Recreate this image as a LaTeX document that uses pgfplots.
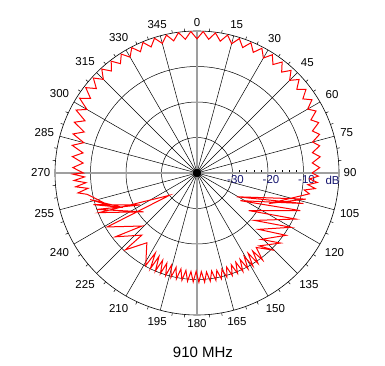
\documentclass[border=0pt]{standalone}
\usepackage{fontspec}
\setmainfont{Liberation Sans}
\usepackage{pgfplots}
\pgfplotsset{compat=1.18}
\usepgfplotslibrary{polar}
\definecolor{navy}{RGB}{20,20,110}
\begin{document}
\begin{tikzpicture}
\begin{polaraxis}[
  name=ax,
  width=284pt, height=284pt, scale only axis,
  xmin=0, xmax=360, ymin=0, ymax=40,
  xtick={0,15,...,345},
  xticklabels={90,75,60,45,30,15,0,345,330,315,300,285,270,255,240,225,210,195,180,165,150,135,120,105},
  minor x tick num=2,
  ytick={10,20,30},
  yticklabels={{-30},{-20},{-10}},
  minor y tick num=4,
  grid=major,
  major grid style={black, line width=0.5pt},
  axis line style={black, line width=0.6pt},
  tick style={black, line width=0.5pt},
  tick align=inside,
  minor tick length=3pt,
  major tick length=0pt,
  xticklabel style={font=\fontsize{11.5}{13}\selectfont, inner sep=4.5pt},
  yticklabel style={font=\fontsize{11.5}{13}\selectfont, text=navy, anchor=north, xshift=3pt, yshift=1pt, fill=none},
  extra x ticks={0,90,180,270},
  extra x tick labels={},
  extra x tick style={grid=major, major grid style={gray!75, line width=1.4pt}, tick style={draw=none}},
]
\addplot[red, line width=1pt] table[x expr={90-\thisrowno{0}}, y expr={\thisrowno{1}+40}] {
a d
90 -7.6
91.5 -5.8
93 -8.2
94.5 -6.0
96 -8.6
97.5 -6.4
99 -9.4
100.5 -7.8
113 -18
103.5 -8.5
121 -27
106 -8.8
122.5 -25.5
110 -9
126 -22
115 -9.3
129.5 -19
120 -9.4
132.5 -16.5
125 -9.4
136 -14
130 -9.3
139.5 -13
135 -9.2
141.5 -13.2
143 -9.3
144.5 -13.0
146 -9.3
147.5 -13.2
149 -9.4
150.5 -13.0
152 -9.4
153.5 -12.8
155 -9.4
156.5 -12.6
158 -9.5
159.5 -12.4
161 -9.5
162.5 -12.2
164 -9.5
165.5 -12.0
167 -9.4
168.5 -12.0
170 -9.3
171.5 -12.1
173 -9.3
174.5 -12.0
176 -9.2
177.5 -12.2
179 -9.2
180.5 -12.3
182 -9.3
183.5 -12.2
185 -9.4
186.5 -12.4
188 -9.5
189.5 -12.6
191 -9.6
192.5 -12.8
194 -9.7
195.5 -13.0
197 -9.8
198.5 -13.2
200 -9.9
201.5 -13.6
203 -10.0
204.5 -14.2
206 -10.0
207.5 -14.6
209 -10.2
215.7 -15.8
223 -10.4
221.6 -16.6
232 -10.8
226 -18.5
239 -10.5
231 -30
248 -10.2
234 -21.4
250 -10
240.7 -21.6
253 -9.5
245 -17
256 -9
250 -13.5
259 -8.5
260.5 -6.0
262 -9.0
263.5 -5.6
265 -8.6
266.5 -5.3
268 -8.3
269.5 -5.0
270 -8.0
272.5 -5.0
275 -7.8
277.5 -4.6
280 -7.4
282.5 -4.0
285 -7.0
287.5 -3.4
290 -6.2
292.5 -2.6
295 -5.2
297.5 -1.6
300 -4.2
302.5 -0.8
305 -3.4
307.5 -0.5
310 -3.0
312.5 -0.4
315 -2.7
317.5 -0.3
320 -2.5
322.5 -0.3
325 -2.4
327.5 -0.3
330 -2.3
332.5 -0.2
335 -2.3
337.5 -0.2
340 -2.2
342.5 -0.2
345 -2.2
347.5 -0.2
350 -2.2
352.5 -0.1
355 -2.2
357.5 -0.1
360 -2.2
362.5 -0.1
365 -2.2
367.5 -0.2
370 -2.3
372.5 -0.2
375 -2.3
377.5 -0.3
380 -2.4
382.5 -0.3
385 -2.5
387.5 -0.4
390 -2.6
392.5 -0.5
395 -2.7
397.5 -0.6
400 -2.9
402.5 -0.8
405 -3.1
407.5 -1.0
410 -3.3
412.5 -1.3
415 -3.6
417.5 -1.6
420 -4.0
422.5 -2.2
425 -4.6
427.5 -2.9
430 -5.4
432.5 -3.8
435 -6.3
437.5 -4.6
440 -7.0
442.5 -5.0
445 -7.4
447.5 -5.4
450 -7.6
};
\addplot[only marks, mark=*, mark size=4pt, black] coordinates {(0,0)};
\node[text=navy, font=\fontsize{11.5}{13}\selectfont, anchor=north] at (axis cs:0,38.2) {dB};
\end{polaraxis}
\path ([shift={(-197pt,173pt)}]ax.center) rectangle ([shift={(188pt,-193pt)}]ax.center);
\node[font=\fontsize{15}{17}\selectfont] at ([shift={(6pt,-179pt)}]ax.center) {910 MHz};
\end{tikzpicture}
\end{document}
